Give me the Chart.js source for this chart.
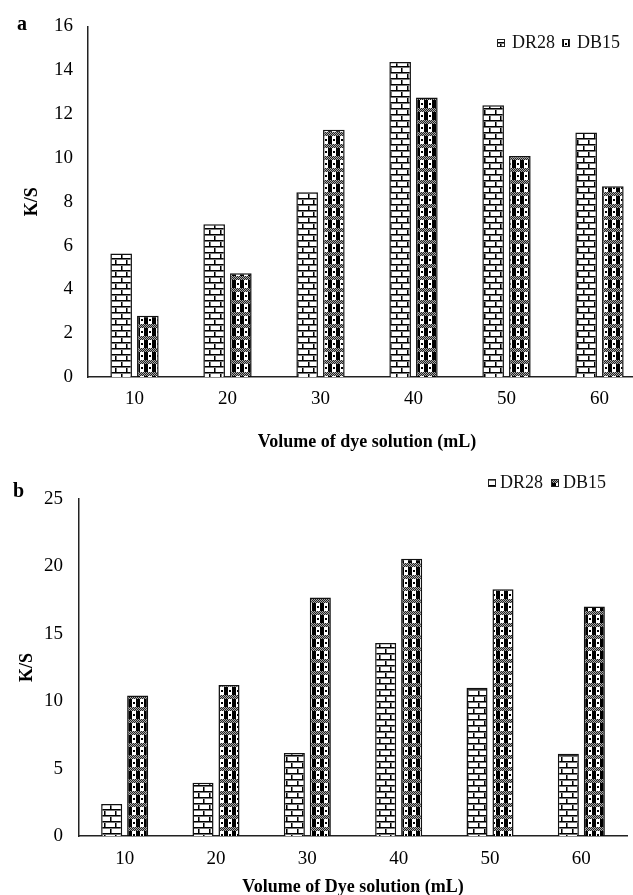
<!DOCTYPE html>
<html>
<head>
<meta charset="utf-8">
<style>
  html, body { margin: 0; padding: 0; background: #fff; overflow: hidden; width: 633px; height: 895px; }
  #wrapA { position: absolute; left: 0; top: 0; }
  #wrapB { position: absolute; left: 0; top: 455px; }
</style>
<script src="https://cdn.jsdelivr.net/npm/chart.js@4.4.0/dist/chart.umd.min.js"></script>
</head>
<body>
<div id="wrapA"><canvas id="chartA" width="650" height="455"></canvas></div>
<div id="wrapB"><canvas id="chartB" width="633" height="443"></canvas></div>
<script>
const categories = ["10", "20", "30", "40", "50", "60"];

// panel a
const dr28A = [5.64, 6.97, 8.43, 14.37, 12.4, 11.16];
const db15A = [2.79, 4.74, 11.28, 12.75, 10.09, 8.7];
const yTicksA = [0, 2, 4, 6, 8, 10, 12, 14, 16];

// panel b
const dr28B = [2.38, 3.95, 6.15, 14.31, 11.0, 6.1];
const db15B = [10.42, 11.2, 17.7, 20.56, 18.3, 17.02];
const yTicksB = [0, 5, 10, 15, 20, 25];

const serif = '"Liberation Serif", "Times New Roman", serif';

function brickPattern() {
  const c = document.createElement("canvas");
  c.width = 11; c.height = 12;
  const g = c.getContext("2d");
  g.fillStyle = "#fff"; g.fillRect(0, 0, 11, 12);
  g.fillStyle = "#000";
  g.fillRect(0, 0, 11, 1); g.fillRect(0, 6, 11, 1);
  g.fillRect(0, 1, 1, 5); g.fillRect(5, 7, 1, 5);
  g.fillStyle = "#777";
  g.fillRect(0, 1, 11, 1); g.fillRect(0, 7, 11, 1);
  g.fillRect(1, 2, 1, 4); g.fillRect(6, 8, 1, 4);
  return g.createPattern(c, "repeat");
}

function checkPattern() {
  const c = document.createElement("canvas");
  c.width = 8; c.height = 12;
  const g = c.getContext("2d");
  g.fillStyle = "#fff"; g.fillRect(0, 0, 8, 12);
  for (let y = 0; y < 4; y++) {
    for (let x = 0; x < 8; x++) {
      g.fillStyle = (x + y) % 2 ? "#222" : "#aaa";
      g.fillRect(x, y, 1, 1);
    }
  }
  g.fillStyle = "#000";
  g.fillRect(0, 4, 4, 8);
  g.fillRect(5, 7, 2, 2);
  return g.createPattern(c, "repeat");
}

const brick = brickPattern();
const check = checkPattern();

const panelDecor = {
  id: "panelDecor",
  afterDraw(chart, args, opts) {
    const ctx = chart.ctx;
    ctx.save();
    ctx.textBaseline = "middle";
    ctx.fillStyle = "#000";
    ctx.font = "bold 20px " + serif;
    ctx.fillText(opts.letter, opts.letterX, opts.letterY);
    ctx.font = "18px " + serif;
    let x = opts.legendX;
    chart.data.datasets.forEach(ds => {
      ctx.fillStyle = ds.backgroundColor;
      ctx.fillRect(x, opts.legendY - 4, 8, 8);
      ctx.strokeStyle = "#222";
      ctx.lineWidth = 1;
      ctx.strokeRect(x + 0.5, opts.legendY - 3.5, 7, 7);
      x += 8 + opts.boxGap;
      ctx.fillStyle = "#111";
      ctx.fillText(ds.label, x, opts.legendY);
      x += ctx.measureText(ds.label).width + opts.itemGap;
    });
    ctx.restore();
  }
};

function makeChart(id, dr, db, yTicks, p) {
  return new Chart(document.getElementById(id), {
    type: "bar",
    data: {
      labels: categories,
      datasets: [
        { label: "DR28", data: dr, backgroundColor: brick, borderColor: "#111", borderWidth: 1.5,
          categoryPercentage: p.cat, barPercentage: 0.81 },
        { label: "DB15", data: db, backgroundColor: check, borderColor: "#111", borderWidth: 1.5,
          categoryPercentage: p.cat, barPercentage: 0.81 }
      ]
    },
    options: {
      responsive: false,
      animation: false,
      layout: { padding: { left: 0, right: p.padRight, top: p.top, bottom: 0 } },
      plugins: {
        legend: { display: false },
        tooltip: { enabled: false },
        panelDecor: p.decor
      },
      scales: {
        x: {
          grid: { display: false, drawTicks: false },
          border: { display: true, color: "#222", width: 1.5 },
          ticks: { color: "#000", font: { family: serif, size: 19 }, padding: p.xTickPad },
          title: { display: true, text: p.xTitle, color: "#000",
                   font: { family: serif, size: 18, weight: "bold" }, padding: { top: 0, bottom: p.xTitlePad } },
          afterFit: s => { s.height = p.xHeight; }
        },
        y: {
          min: yTicks[0],
          max: yTicks[yTicks.length - 1],
          afterBuildTicks: s => { s.ticks = yTicks.map(v => ({ value: v })); },
          grid: { display: false, drawTicks: false },
          border: { display: true, color: "#222", width: 1.5 },
          ticks: { color: "#000", font: { family: serif, size: 19 }, padding: p.yTickPad },
          title: { display: true, text: "K/S", color: "#000",
                   font: { family: serif, size: 18, weight: "bold" }, padding: { top: p.yTitlePad, bottom: 0 } },
          afterFit: s => { s.width = p.yWidth; }
        }
      }
    },
    plugins: [panelDecor]
  });
}

makeChart("chartA", dr28A, db15A, yTicksA, {
  cat: 0.574, padRight: 4, top: 24, xHeight: 78, yWidth: 88,
  xTickPad: 11, yTickPad: 15, xTitlePad: 2, yTitlePad: 22,
  xTitle: "Volume of dye solution (mL)",
  decor: { letter: "a", letterX: 17, letterY: 25, legendX: 497, legendY: 43, boxGap: 7, itemGap: 7 }
});

makeChart("chartB", dr28B, db15B, yTicksB, {
  cat: 0.569, padRight: 6, top: 44, xHeight: 62, yWidth: 79,
  xTickPad: 12, yTickPad: 16, xTitlePad: 0, yTitlePad: 17,
  xTitle: "Volume of Dye solution (mL)",
  decor: { letter: "b", letterX: 13, letterY: 37, legendX: 488, legendY: 28, boxGap: 4, itemGap: 8 }
});
</script>
</body>
</html>
